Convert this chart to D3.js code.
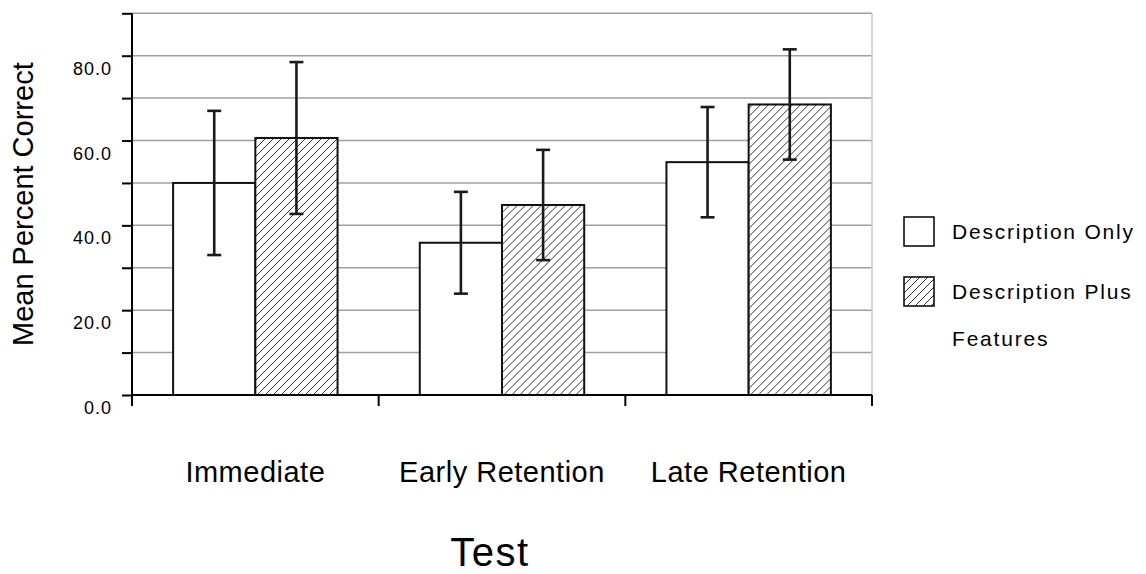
<!DOCTYPE html>
<html>
<head>
<meta charset="utf-8">
<script src="https://cdn.jsdelivr.net/npm/d3@7"></script>
<style>
  body { margin: 0; background: #fff; }
  svg { display: block; font-family: 'Liberation Sans', Arial, Helvetica, sans-serif; }
</style>
</head>
<body>
<script>
// data
const categories = ['Immediate', 'Early Retention', 'Late Retention'];
const seriesNames = ['Description Only', 'Description Plus Features'];
const descOnly = [50.0, 35.9, 54.9];
const descOnlyErr = [17.0, 12.0, 13.0];
const descPlus = [60.6, 44.8, 68.5];
const descPlusErr = [17.9, 13.0, 13.0];
const yTicks = [0, 10, 20, 30, 40, 50, 60, 70, 80, 90];
const yLabelTicks = [0, 20, 40, 60, 80];

const width = 1146,
    height = 574,
    margin = { top: 13.3, right: 274, bottom: 179, left: 132 };

const rows = categories.map((c, i) => ({
    cat: c,
    values: [
        { key: seriesNames[0], value: descOnly[i], err: descOnlyErr[i] },
        { key: seriesNames[1], value: descPlus[i], err: descPlusErr[i] }
    ]
}));

const x0 = d3.scaleBand()
    .domain(categories)
    .range([margin.left, width - margin.right])
    .paddingInner(0)
    .paddingOuter(0);

const x1 = d3.scaleBand()
    .domain(seriesNames)
    .range([0, x0.bandwidth()])
    .paddingInner(0)
    .paddingOuter(0.5);

const y = d3.scaleLinear()
    .domain([0, 90])
    .range([height - margin.bottom, margin.top]);

const svg = d3.select('body').append('svg')
    .attr('width', width)
    .attr('height', height);

// diagonal hatch for the second series (white ground so gridlines stay hidden)
const defs = svg.append('defs');
const hatch = defs.append('pattern')
    .attr('id', 'hatch')
    .attr('patternUnits', 'userSpaceOnUse')
    .attr('width', 8)
    .attr('height', 8);
hatch.append('rect')
    .attr('width', 8)
    .attr('height', 8)
    .style('fill', '#fff');
hatch.append('path')
    .attr('d', 'M0,8 L8,0 M-2,2 L2,-2 M6,10 L10,6')
    .style('stroke', '#333')
    .style('stroke-width', 1);

const fills = { 'Description Only': '#fff', 'Description Plus Features': 'url(#hatch)' };

const plotLeft = x0.range()[0],
    plotRight = x0.range()[1],
    plotBottom = y(0);

// gridlines
svg.append('g')
    .selectAll('line')
    .data(yTicks.filter(d => d > 0))
    .join('line')
    .attr('x1', plotLeft)
    .attr('x2', plotRight)
    .attr('y1', d => y(d))
    .attr('y2', d => y(d))
    .style('stroke', '#a0a0a0')
    .style('stroke-width', 1.5);

// right edge of the plot
svg.append('line')
    .attr('x1', plotRight).attr('x2', plotRight)
    .attr('y1', y(90)).attr('y2', plotBottom)
    .style('stroke', '#c8c8c8')
    .style('stroke-width', 1.5);

// bars
const group = svg.append('g')
    .selectAll('g')
    .data(rows)
    .join('g')
    .attr('transform', d => `translate(${x0(d.cat)},0)`);

group.selectAll('rect')
    .data(d => d.values)
    .join('rect')
    .attr('x', d => x1(d.key))
    .attr('y', d => y(d.value))
    .attr('width', x1.bandwidth())
    .attr('height', d => plotBottom - y(d.value))
    .style('fill', d => fills[d.key])
    .style('stroke', '#111')
    .style('stroke-width', 2);

// error bars
const capHalf = 7;
const err = group.selectAll('g.err')
    .data(d => d.values)
    .join('g')
    .attr('class', 'err')
    .style('stroke', '#1a1a1a')
    .style('stroke-width', 2.6);

err.append('line')
    .attr('x1', d => x1(d.key) + x1.bandwidth() / 2)
    .attr('x2', d => x1(d.key) + x1.bandwidth() / 2)
    .attr('y1', d => y(d.value + d.err))
    .attr('y2', d => y(d.value - d.err));

err.append('line')
    .attr('x1', d => x1(d.key) + x1.bandwidth() / 2 - capHalf)
    .attr('x2', d => x1(d.key) + x1.bandwidth() / 2 + capHalf)
    .attr('y1', d => y(d.value + d.err))
    .attr('y2', d => y(d.value + d.err));

err.append('line')
    .attr('x1', d => x1(d.key) + x1.bandwidth() / 2 - capHalf)
    .attr('x2', d => x1(d.key) + x1.bandwidth() / 2 + capHalf)
    .attr('y1', d => y(d.value - d.err))
    .attr('y2', d => y(d.value - d.err));

// y axis
const yAxis = svg.append('g')
    .attr('transform', `translate(${plotLeft},0)`)
    .call(d3.axisLeft(y).tickValues(yTicks).tickSize(10).tickFormat(''));
yAxis.select('.domain').remove();
yAxis.selectAll('.tick line').style('stroke', '#000').style('stroke-width', 2);

svg.append('line')
    .attr('x1', plotLeft).attr('x2', plotLeft)
    .attr('y1', y(90)).attr('y2', plotBottom + 11)
    .style('stroke', '#000')
    .style('stroke-width', 2);

svg.append('g')
    .selectAll('text')
    .data(yLabelTicks)
    .join('text')
    .attr('x', plotLeft - 20)
    .attr('y', d => y(d) + 19)
    .attr('text-anchor', 'end')
    .style('font-size', '18px')
    .style('letter-spacing', '1px')
    .text(d => d3.format('.1f')(d));

// x axis
svg.append('line')
    .attr('x1', plotLeft).attr('x2', plotRight)
    .attr('y1', plotBottom).attr('y2', plotBottom)
    .style('stroke', '#000')
    .style('stroke-width', 2);

svg.append('g')
    .selectAll('line')
    .data(categories)
    .join('line')
    .attr('x1', d => x0(d) + x0.bandwidth())
    .attr('x2', d => x0(d) + x0.bandwidth())
    .attr('y1', plotBottom)
    .attr('y2', plotBottom + 11)
    .style('stroke', '#000')
    .style('stroke-width', 2);

svg.append('g')
    .selectAll('text')
    .data(categories)
    .join('text')
    .attr('x', d => x0(d) + x0.bandwidth() / 2)
    .attr('y', 482)
    .attr('text-anchor', 'middle')
    .style('font-size', '29px')
    .style('letter-spacing', '0.5px')
    .text(d => d);

// axis titles
svg.append('text')
    .attr('x', (plotLeft + plotRight) / 2 - 12)
    .attr('y', 566)
    .attr('text-anchor', 'middle')
    .style('font-size', '40px')
    .style('letter-spacing', '1.5px')
    .text('Test');

svg.append('text')
    .attr('transform', `translate(33,${(y(90) + plotBottom) / 2}) rotate(-90)`)
    .attr('text-anchor', 'middle')
    .style('font-size', '29px')
    .text('Mean Percent Correct');

// legend
const legend = svg.append('g')
    .attr('transform', 'translate(904,217)');

const item = legend.selectAll('g')
    .data(seriesNames)
    .join('g')
    .attr('transform', (d, i) => `translate(0,${i * 60})`);

item.append('rect')
    .attr('width', 30)
    .attr('height', 29)
    .style('fill', d => fills[d])
    .style('stroke', '#000')
    .style('stroke-width', 1.5);

item.append('text')
    .attr('x', 48)
    .attr('y', 21.5)
    .style('font-size', '21px')
    .style('letter-spacing', '1.8px')
    .each(function(d) {
        // long names wrap onto a second line, as in the original
        const words = d.split(' ');
        const t = d3.select(this);
        if (words.length > 2) {
            t.append('tspan').text(words.slice(0, 2).join(' '));
            t.append('tspan').attr('x', 48).attr('dy', 47).text(words.slice(2).join(' '));
        } else {
            t.text(d);
        }
    });
</script>
</body>
</html>
